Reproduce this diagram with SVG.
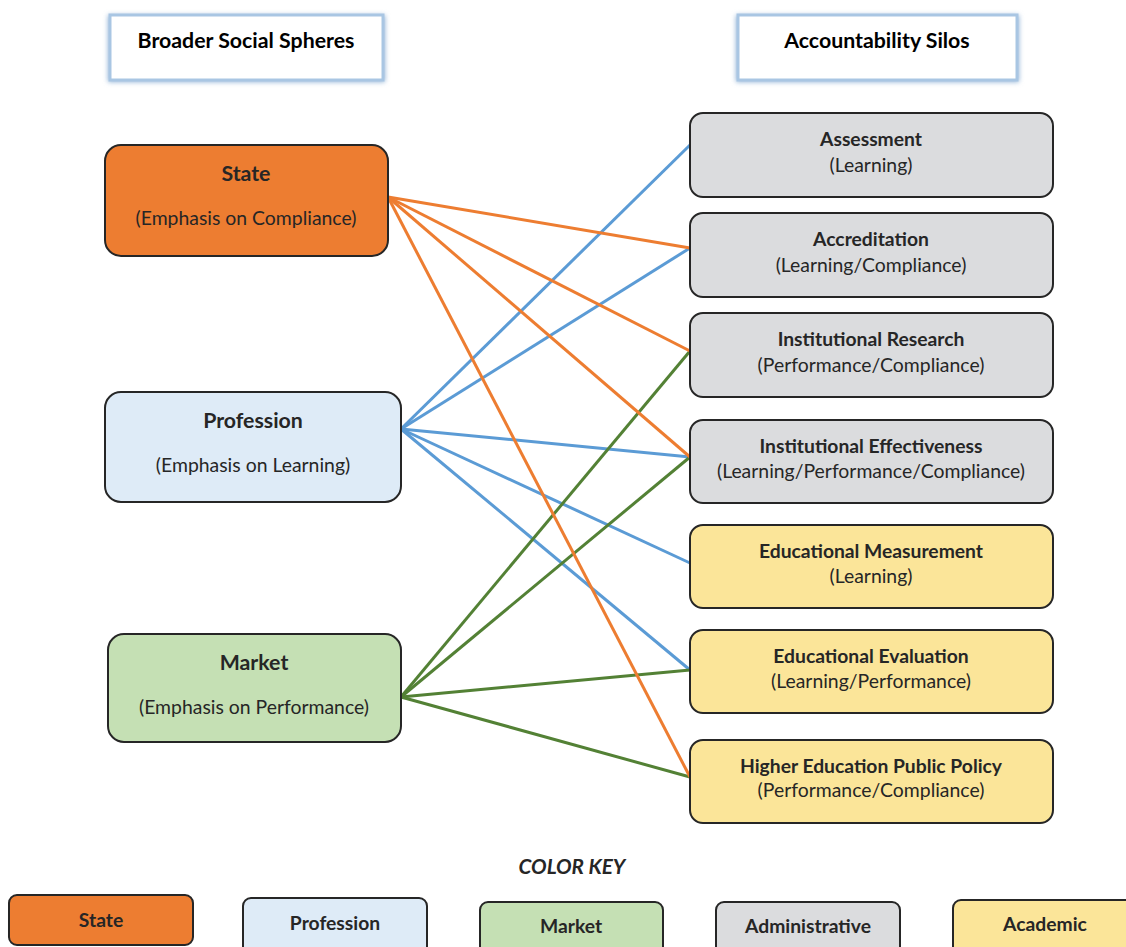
<svg xmlns="http://www.w3.org/2000/svg" width="1126" height="947" viewBox="0 0 1126 947">
<defs>
<filter id="glow" x="-10%" y="-20%" width="120%" height="150%">
<feGaussianBlur stdDeviation="2.5"/>
</filter>
<style>
.t{font-family:Lato,"Liberation Sans",sans-serif;fill:#262626;text-anchor:middle}
.b{font-weight:bold;font-size:19.3px}
.bl{font-weight:bold;font-size:21.3px}
.s{font-size:19.4px}
.h{font-family:Lato,"Liberation Sans",sans-serif;font-weight:bold;font-size:21.3px;fill:#000;text-anchor:middle}
.k{font-family:Lato,"Liberation Sans",sans-serif;font-weight:bold;font-size:19.3px;fill:#262626;text-anchor:middle}
.n{stroke:#262626;stroke-width:2}
.c{fill:none;stroke-width:3}
.co{stroke:#ED7D31}
.cb{stroke:#5B9BD5}
.cg{stroke:#538135}
.state{fill:#ED7D31}
.prof{fill:#DEEBF7}
.mkt{fill:#C5E0B4}
.adm{fill:#DBDCDE}
.aca{fill:#FBE599}
</style>
</defs>
<rect width="1126" height="947" fill="#fff"/>

<g id="header-broader">
<rect x="108" y="15" width="277" height="67" fill="#8fb2d6" filter="url(#glow)"/>
<rect x="110" y="15" width="273" height="65" fill="#fff" stroke="#a9c6e3" stroke-width="3"/>
<text class="h" x="246" y="48">Broader Social Spheres</text>
</g>
<g id="header-silos">
<rect x="736" y="15" width="283" height="67" fill="#8fb2d6" filter="url(#glow)"/>
<rect x="738" y="15" width="279" height="65" fill="#fff" stroke="#a9c6e3" stroke-width="3"/>
<text class="h" x="877" y="48">Accountability Silos</text>
</g>

<g id="connectors">
<line class="c cb" x1="401" y1="429" x2="690" y2="145"/>
<line class="c cb" x1="401" y1="429" x2="690" y2="248"/>
<line class="c cb" x1="401" y1="429" x2="690" y2="457"/>
<line class="c cb" x1="401" y1="429" x2="690" y2="563"/>
<line class="c cb" x1="401" y1="429" x2="690" y2="670"/>
<line class="c cg" x1="401" y1="697" x2="690" y2="351"/>
<line class="c cg" x1="401" y1="697" x2="690" y2="457"/>
<line class="c cg" x1="401" y1="697" x2="690" y2="670"/>
<line class="c cg" x1="401" y1="697" x2="690" y2="777"/>
<line class="c co" x1="388" y1="197" x2="690" y2="248"/>
<line class="c co" x1="388" y1="197" x2="690" y2="351"/>
<line class="c co" x1="388" y1="197" x2="690" y2="457"/>
<line class="c co" x1="388" y1="197" x2="690" y2="777"/>
</g>

<g id="node-state">
<rect class="n state" x="105" y="145" width="283" height="111" rx="16"/>
<text class="t bl" x="246" y="181">State</text>
<text class="t s" x="246" y="225">(Emphasis on Compliance)</text>
</g>
<g id="node-profession">
<rect class="n prof" x="105" y="392" width="296" height="110" rx="16"/>
<text class="t bl" x="253" y="428">Profession</text>
<text class="t s" x="253" y="472">(Emphasis on Learning)</text>
</g>
<g id="node-market">
<rect class="n mkt" x="108" y="634" width="293" height="108" rx="16"/>
<text class="t bl" x="254" y="670">Market</text>
<text class="t s" x="254" y="714">(Emphasis on Performance)</text>
</g>

<g id="node-assessment">
<rect class="n adm" x="690" y="113" width="363" height="84" rx="13"/>
<text class="t b" x="871" y="146">Assessment</text>
<text class="t s" x="871" y="172">(Learning)</text>
</g>
<g id="node-accreditation">
<rect class="n adm" x="690" y="213" width="363" height="84" rx="13"/>
<text class="t b" x="871" y="246">Accreditation</text>
<text class="t s" x="871" y="272">(Learning/Compliance)</text>
</g>
<g id="node-ir">
<rect class="n adm" x="690" y="313" width="363" height="84" rx="13"/>
<text class="t b" x="871" y="346">Institutional Research</text>
<text class="t s" x="871" y="372">(Performance/Compliance)</text>
</g>
<g id="node-ie">
<rect class="n adm" x="690" y="420" width="363" height="83" rx="13"/>
<text class="t b" x="871" y="453">Institutional Effectiveness</text>
<text class="t s" x="871" y="478">(Learning/Performance/Compliance)</text>
</g>
<g id="node-em">
<rect class="n aca" x="690" y="525" width="363" height="83" rx="13"/>
<text class="t b" x="871" y="558">Educational Measurement</text>
<text class="t s" x="871" y="583">(Learning)</text>
</g>
<g id="node-ee">
<rect class="n aca" x="690" y="630" width="363" height="83" rx="13"/>
<text class="t b" x="871" y="663">Educational Evaluation</text>
<text class="t s" x="871" y="688">(Learning/Performance)</text>
</g>
<g id="node-hepp">
<rect class="n aca" x="690" y="740" width="363" height="83" rx="13"/>
<text class="t b" x="871" y="773">Higher Education Public Policy</text>
<text class="t s" x="871" y="797">(Performance/Compliance)</text>
</g>

<g id="color-key">
<text x="572" y="874" font-family="Lato,'Liberation Sans',sans-serif" font-weight="bold" font-style="italic" font-size="20.7" fill="#262626" text-anchor="middle">COLOR KEY</text>
<g id="key-state">
<rect class="n state" x="9" y="895" width="184" height="50" rx="8"/>
<text class="k" x="101" y="927">State</text>
</g>
<g id="key-profession">
<rect class="n prof" x="243" y="898" width="184" height="60" rx="8"/>
<text class="k" x="335" y="930">Profession</text>
</g>
<g id="key-market">
<rect class="n mkt" x="480" y="902" width="183" height="60" rx="8"/>
<text class="k" x="571" y="933">Market</text>
</g>
<g id="key-administrative">
<rect class="n adm" x="716" y="902" width="184" height="60" rx="8"/>
<text class="k" x="808" y="933">Administrative</text>
</g>
<g id="key-academic">
<rect class="n aca" x="953" y="900" width="190" height="60" rx="8"/>
<text class="k" x="1045" y="931">Academic</text>
</g>
</g>
</svg>
